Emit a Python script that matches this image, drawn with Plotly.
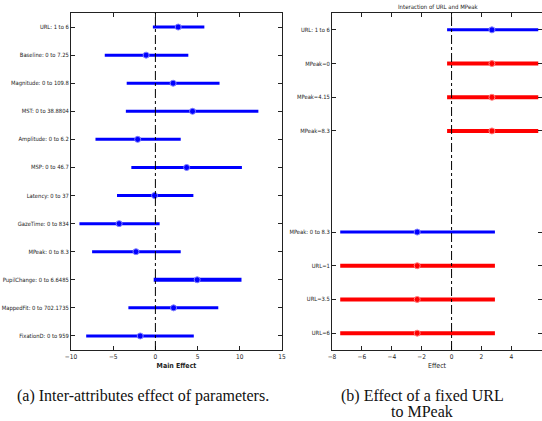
import plotly.graph_objects as go

# ---- Panel (a): main effects ----
main_labels = ["URL: 1 to 6", "Baseline: 0 to 7.25", "Magnitude: 0 to 109.8",
               "MST: 0 to 38.8804", "Amplitude: 0 to 6.2", "MSP: 0 to 46.7",
               "Latency: 0 to 37", "GazeTime: 0 to 834", "MPeak: 0 to 8.3",
               "PupilChange: 0 to 6.6485", "MappedFit: 0 to 702.1735",
               "FixationD: 0 to 959"]
main_est = [2.7, -1.1, 2.1, 4.4, -2.1, 3.7, -0.1, -4.3, -2.3, 4.95, 2.15, -1.8]
main_lo = [-0.3, -6.0, -3.4, -3.5, -7.1, -2.85, -4.55, -9.0, -7.5, -0.2, -3.2, -8.2]
main_hi = [5.8, 3.9, 7.6, 12.2, 3.0, 10.25, 4.5, 0.5, 3.0, 10.2, 7.45, 4.55]
main_xticks = [-10, -5, 0, 5, 10, 15]

# ---- Panel (b): interaction of URL and MPeak ----
int_groups = [
    ["URL: 1 to 6", "MPeak=0", "MPeak=4.15", "MPeak=8.3"],
    ["MPeak: 0 to 8.3", "URL=1", "URL=3.5", "URL=6"],
]
int_est = [[2.7, 2.7, 2.7, 2.7], [-2.3, -2.3, -2.3, -2.3]]
int_lo = [[-0.3, -0.3, -0.3, -0.3], [-7.45, -7.45, -7.45, -7.45]]
int_hi = [[5.8, 5.8, 5.8, 5.8], [2.9, 2.9, 2.9, 2.9]]
int_xticks = [-8, -6, -4, -2, 0, 2, 4, 6]

BLUE = "#0000ff"
RED = "#ff0000"
NARROW = "DejaVu Sans Condensed, Liberation Sans"
YTICKFONT = dict(family=NARROW, size=5.8, color="#222")
XTICKFONT = dict(family=NARROW, size=6.5, color="#222")
SERIF = "Liberation Serif, Times New Roman, serif"

fig = go.Figure()

# panel a
for i, (lab, e, lo, hi) in enumerate(zip(main_labels, main_est, main_lo, main_hi)):
    pos = i + 1
    w = 4 if lab.startswith("PupilChange") else 3
    fig.add_trace(go.Scatter(x=[lo, hi], y=[pos, pos], mode="lines",
                             line=dict(color=BLUE, width=w), xaxis="x", yaxis="y",
                             showlegend=False, hoverinfo="skip"))
    fig.add_trace(go.Scatter(x=[e], y=[pos], mode="markers",
                             marker=dict(symbol="circle", size=6, color=BLUE,
                                         line=dict(color="#8080ff", width=1)),
                             xaxis="x", yaxis="y", showlegend=False))

# panel b
int_labels, int_pos = [], []
p = 1
for g, labs in enumerate(int_groups):
    for j, lab in enumerate(labs):
        col = BLUE if j == 0 else RED
        w = 3 if j == 0 else 4
        fig.add_trace(go.Scatter(x=[int_lo[g][j], int_hi[g][j]], y=[p, p], mode="lines",
                                 line=dict(color=col, width=w), xaxis="x2", yaxis="y2",
                                 showlegend=False, hoverinfo="skip"))
        fig.add_trace(go.Scatter(x=[int_est[g][j]], y=[p], mode="markers",
                                 marker=dict(symbol="circle", size=6, color=col,
                                             line=dict(color="#8080ff" if j == 0 else "#ff8080", width=1)),
                                 xaxis="x2", yaxis="y2", showlegend=False))
        int_labels.append(lab)
        int_pos.append(p)
        p += 1
    p += 2

W, H = 542, 421
ytop = 1 - 13 / H
ybot = 1 - 350 / H

axis_common = dict(showline=True, linecolor="#222", linewidth=1, mirror="ticks",
                   ticks="inside", ticklen=4, tickcolor="#222", showgrid=False,
                   zeroline=False, automargin=False)


def py(px):
    return 1 - px / H


fig.update_layout(
    width=W, height=H, margin=dict(l=0, r=0, t=0, b=0),
    paper_bgcolor="white", plot_bgcolor="white",
    xaxis=dict(domain=[71 / W, 282 / W], range=[-10, 15], tickvals=main_xticks,
               anchor="y", tickfont=XTICKFONT, **axis_common,
               title=dict(text="<b>Main Effect</b>", font=dict(family=NARROW, size=7, color="#222"), standoff=3)),
    yaxis=dict(domain=[ybot, ytop], range=[12.5, 0.5], tickvals=list(range(1, len(main_labels) + 1)),
               ticktext=main_labels, anchor="x", tickfont=YTICKFONT, **axis_common),
    xaxis2=dict(domain=[332 / W, 1.0], range=[-8, 6.05], tickvals=int_xticks,
                anchor="y2", tickfont=XTICKFONT, **axis_common,
                title=dict(text="Effect", font=dict(family=NARROW, size=7, color="#222"), standoff=3)),
    yaxis2=dict(domain=[ybot, ytop], range=[10.5, 0.5], tickvals=int_pos,
                ticktext=int_labels, anchor="x2", tickfont=YTICKFONT, **axis_common),
    shapes=[
        dict(type="line", xref="x", yref="y domain", x0=0, x1=0, y0=0, y1=1,
             line=dict(color="black", width=1, dash="dashdot")),
        dict(type="line", xref="x2", yref="y2 domain", x0=0, x1=0, y0=0, y1=1,
             line=dict(color="black", width=1, dash="dashdot")),
    ],
    annotations=[
        dict(text="Interaction of URL and MPeak", xref="paper", yref="paper",
             x=438 / W, y=py(6), xanchor="center", yanchor="middle", showarrow=False,
             font=dict(family=NARROW, size=6, color="#222")),
        dict(text="(a) Inter-attributes effect of parameters.", xref="paper", yref="paper",
             x=143 / W, y=py(396), xanchor="center", yanchor="middle", showarrow=False,
             font=dict(family=SERIF, size=16, color="#111")),
        dict(text="(b) Effect of a fixed URL", xref="paper", yref="paper",
             x=422 / W, y=py(396), xanchor="center", yanchor="middle", showarrow=False,
             font=dict(family=SERIF, size=16, color="#111")),
        dict(text="to MPeak", xref="paper", yref="paper",
             x=422 / W, y=py(411), xanchor="center", yanchor="middle", showarrow=False,
             font=dict(family=SERIF, size=16, color="#111")),
    ],
)

fig.write_html("out.html", config={"displayModeBar": False},
               post_script="document.body.style.margin='0';document.body.style.overflow='hidden';")
